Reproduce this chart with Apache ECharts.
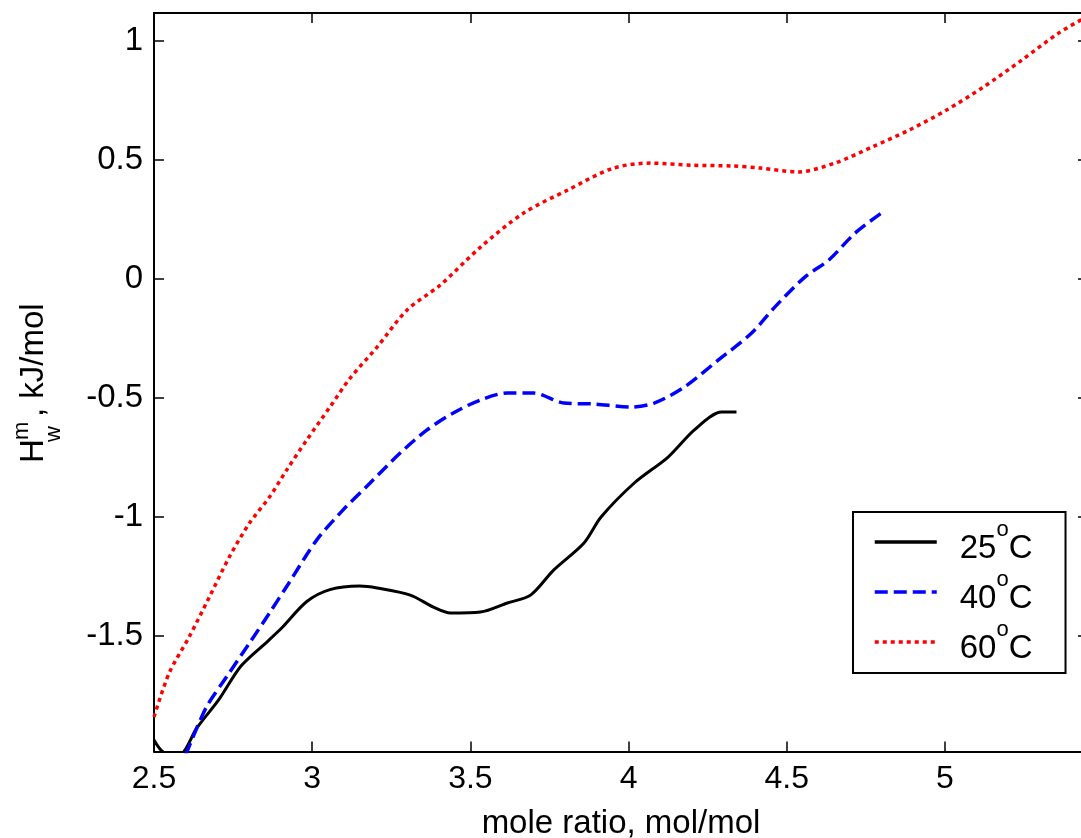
<!DOCTYPE html>
<html>
<head>
<meta charset="utf-8">
<script src="https://cdn.jsdelivr.net/npm/echarts@6/dist/echarts.min.js"></script>
<style>
html,body{margin:0;padding:0;background:#fff;}
#chart{width:1081px;height:838px;}
</style>
</head>
<body>
<div id="chart"></div>
<script>
// ---- data ----
const x25 = [2.50, 2.522, 2.55, 2.58, 2.635, 2.706, 2.775, 2.86, 2.905, 2.983, 3.056, 3.15, 3.205, 3.31, 3.383, 3.437, 3.532, 3.617, 3.69, 3.763, 3.859, 3.913, 4.018, 4.125, 4.208, 4.294, 4.341];
const y25 = [-1.937, -1.979, -2.00, -2.00, -1.887, -1.765, -1.626, -1.521, -1.464, -1.355, -1.305, -1.29, -1.298, -1.328, -1.378, -1.403, -1.399, -1.361, -1.328, -1.223, -1.109, -1.000, -0.857, -0.748, -0.634, -0.559, -0.559];

const x40 = [2.60, 2.665, 2.729, 2.802, 2.865, 2.925, 3.014, 3.097, 3.183, 3.278, 3.363, 3.446, 3.532, 3.617, 3.70, 3.795, 3.89, 4.008, 4.081, 4.176, 4.284, 4.389, 4.462, 4.557, 4.633, 4.716, 4.808];
const y40 = [-2.00, -1.80, -1.672, -1.529, -1.403, -1.28, -1.097, -0.971, -0.857, -0.731, -0.634, -0.563, -0.508, -0.479, -0.479, -0.521, -0.525, -0.538, -0.521, -0.454, -0.340, -0.227, -0.118, 0.008, 0.080, 0.193, 0.286];

const x60 = [2.50, 2.548, 2.611, 2.675, 2.738, 2.802, 2.865, 2.919, 2.983, 3.056, 3.119, 3.205, 3.30, 3.405, 3.532, 3.668, 3.808, 3.95, 4.07, 4.20, 4.325, 4.417, 4.535, 4.652, 4.77, 4.887, 5.005, 5.122, 5.243, 5.36, 5.452];
const y60 = [-1.84, -1.655, -1.504, -1.336, -1.168, -1.025, -0.916, -0.803, -0.676, -0.538, -0.418, -0.286, -0.130, -0.025, 0.134, 0.277, 0.374, 0.465, 0.487, 0.478, 0.475, 0.466, 0.450, 0.487, 0.555, 0.626, 0.710, 0.807, 0.920, 1.034, 1.105];

const seriesTemps = ['25', '40', '60'];
const xTicks = [2.5, 3, 3.5, 4, 4.5, 5];
const yTicks = [-1.5, -1, -0.5, 0, 0.5, 1];
const xRange = [2.5, 5.452];
const yRange = [-1.985, 1.1176];
const xTitle = 'mole ratio, mol/mol';

// ---- chart ----
const FONT = '"Liberation Sans", Arial, sans-serif';
const chart = echarts.init(document.getElementById('chart'), null, {renderer: 'canvas'});

function pairs(xs, ys) { return xs.map((x, i) => [x, ys[i]]); }

const axisCommon = {
  type: 'value',
  axisLine: {show: true, onZero: false, lineStyle: {color: '#000', width: 2}},
  axisTick: {show: true, inside: true, length: 10, lineStyle: {color: '#000', width: 1.5}},
  splitLine: {show: false}
};

const option = {
  animation: false,
  backgroundColor: '#fff',
  grid: {left: 154, right: -7, top: 13, bottom: 86.5, containLabel: false, outerBoundsMode: 'none'},
  xAxis: [
    Object.assign({}, axisCommon, {
      min: xRange[0], max: xRange[1], position: 'bottom',
      axisTick: Object.assign({}, axisCommon.axisTick, {customValues: xTicks}),
      axisLabel: {show: true, customValues: xTicks, margin: 12, fontSize: 32, fontFamily: FONT, color: '#000'},
      name: xTitle, nameLocation: 'middle', nameGap: 56,
      nameTextStyle: {fontSize: 33, fontFamily: FONT, color: '#000'}
    }),
    Object.assign({}, axisCommon, {
      min: xRange[0], max: xRange[1], position: 'top',
      axisTick: Object.assign({}, axisCommon.axisTick, {customValues: xTicks}),
      axisLabel: {show: false}
    })
  ],
  yAxis: [
    Object.assign({}, axisCommon, {
      min: yRange[0], max: yRange[1], position: 'left',
      axisTick: Object.assign({}, axisCommon.axisTick, {customValues: yTicks}),
      axisLabel: {show: true, customValues: yTicks, margin: 11, fontSize: 33, fontFamily: FONT, color: '#000'}
    }),
    Object.assign({}, axisCommon, {
      min: yRange[0], max: yRange[1], position: 'right',
      axisTick: Object.assign({}, axisCommon.axisTick, {customValues: yTicks}),
      axisLabel: {show: false}
    })
  ],
  legend: {
    orient: 'vertical', left: 853, top: 512,
    backgroundColor: '#fff', borderColor: '#000', borderWidth: 2, borderRadius: 0,
    padding: [7, 33, 8, 20], itemGap: 4, itemWidth: 62, itemHeight: 14,
    itemStyle: {opacity: 0, borderWidth: 0},
    lineStyle: {width: 3.5},
    data: seriesTemps.map(t => t + '°C'),
    formatter: function (name) { return '{n|' + name.replace('°C', '') + '}{sup|o}{n|C}'; },
    textStyle: {
      color: '#000', fontFamily: FONT, fontSize: 33, padding: [0, 0, 0, 18],
      rich: {
        n: {fontSize: 33, fontFamily: FONT, color: '#000', lineHeight: 46, verticalAlign: 'bottom'},
        sup: {fontSize: 22, fontFamily: FONT, color: '#000', lineHeight: 36, verticalAlign: 'top'}
      }
    }
  },
  series: [
    {name: seriesTemps[0] + '°C', type: 'line', data: pairs(x25, y25), showSymbol: false, symbol: 'none', symbolSize: 0, smooth: 0.3, clip: true,
     lineStyle: {color: '#000', width: 3, type: 'solid'}, itemStyle: {color: '#000'}},
    {name: seriesTemps[1] + '°C', type: 'line', data: pairs(x40, y40), showSymbol: false, symbol: 'none', symbolSize: 0, smooth: 0.3, clip: true,
     lineStyle: {color: '#0000ff', width: 3.5, type: [13, 6]}, itemStyle: {color: '#0000ff'}},
    {name: seriesTemps[2] + '°C', type: 'line', data: pairs(x60, y60), showSymbol: false, symbol: 'none', symbolSize: 0, smooth: 0.3, clip: true,
     lineStyle: {color: '#ff0000', width: 3.5, type: [4, 4]}, itemStyle: {color: '#ff0000'}}
  ],
  graphic: [
    {
      type: 'group', x: 45, y: 463, rotation: Math.PI / 2,
      children: [
        {type: 'text', style: {text: 'H', x: 0, y: -11.5, font: '33px ' + FONT, fill: '#000', align: 'left', verticalAlign: 'middle'}},
        {type: 'text', style: {text: 'm', x: 23, y: -23.5, font: '22px ' + FONT, fill: '#000', align: 'left', verticalAlign: 'middle'}},
        {type: 'text', style: {text: 'w', x: 21, y: 9, font: '22px ' + FONT, fill: '#000', align: 'left', verticalAlign: 'middle'}},
        {type: 'text', style: {text: ', kJ/mol', x: 46, y: -11.5, font: '33px ' + FONT, fill: '#000', align: 'left', verticalAlign: 'middle'}}
      ]
    }
  ]
};
chart.setOption(option);
</script>
</body>
</html>
